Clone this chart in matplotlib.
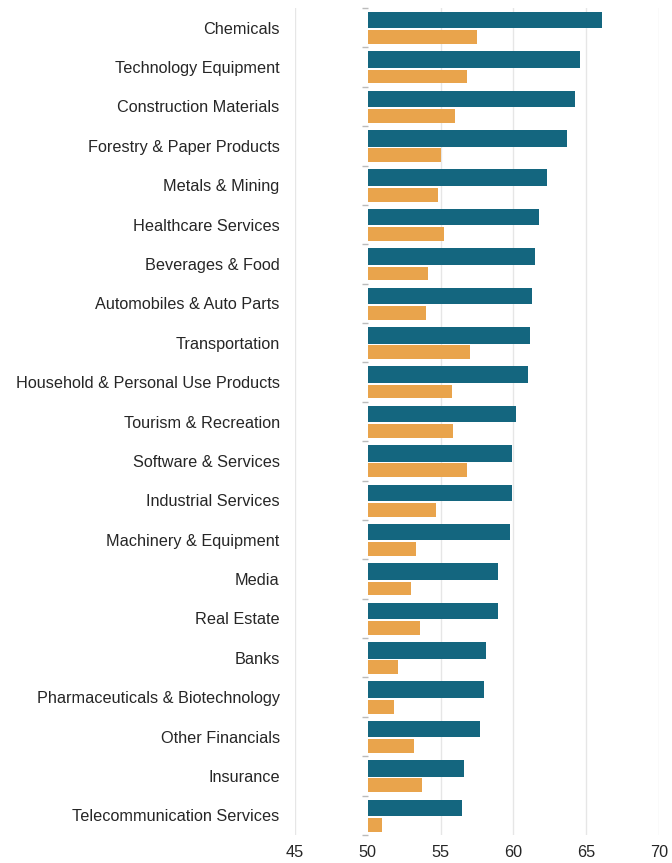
import numpy as np
import matplotlib.pyplot as plt

categories = [
    "Chemicals", "Technology Equipment", "Construction Materials",
    "Forestry & Paper Products", "Metals & Mining", "Healthcare Services",
    "Beverages & Food", "Automobiles & Auto Parts", "Transportation",
    "Household & Personal Use Products", "Tourism & Recreation",
    "Software & Services", "Industrial Services", "Machinery & Equipment",
    "Media", "Real Estate", "Banks", "Pharmaceuticals & Biotechnology",
    "Other Financials", "Insurance", "Telecommunication Services",
]
teal_values = [66.1, 64.6, 64.25, 63.65, 62.3, 61.75, 61.5, 61.3, 61.15, 61.0,
               60.2, 59.9, 59.9, 59.8, 58.95, 58.95, 58.1, 57.95, 57.7, 56.6, 56.5]
orange_values = [57.5, 56.8, 56.0, 55.05, 54.85, 55.2, 54.15, 54.0, 57.05, 55.8,
                 55.85, 56.8, 54.7, 53.3, 53.0, 53.6, 52.1, 51.8, 53.2, 53.7, 51.0]
xticks = [45, 50, 55, 60, 65, 70]
baseline = 50

teal = "#14667f"
orange = "#e9a44c"
text_col = "#262626"

plt.rcParams['font.family'] = ['Liberation Sans', 'DejaVu Sans']

fig = plt.figure(figsize=(6.72, 8.63), dpi=100)
ax = fig.add_axes([295 / 672, 1 - 835 / 863, (659 - 295) / 672, 827 / 863])

y = np.arange(len(categories))
teal_v = np.array(teal_values)
orange_v = np.array(orange_values)

# teal bar on top half, thinner orange bar just below it
ax.barh(y - 0.19, teal_v - baseline, left=baseline, height=0.42,
        color=teal, zorder=3)
ax.barh(y + 0.24, orange_v - baseline, left=baseline, height=0.35,
        color=orange, zorder=3)

ax.set_xlim(45, 70)
ax.set_ylim(len(categories) - 0.5, -0.5)
ax.set_xticks(xticks)
ax.set_xticklabels([str(t) for t in xticks])
ax.set_yticks(y)
ax.set_yticklabels(categories)
ax.tick_params(axis='both', length=0, labelsize=11.7, labelcolor=text_col)
ax.tick_params(axis='y', pad=11)
ax.tick_params(axis='x', pad=7)

ax.grid(axis='x', color='#e6e6e6', linewidth=1, zorder=0)
ax.set_axisbelow(True)
ax.get_xgridlines()[1].set_visible(False)

# small tick marks between categories at the baseline
bounds = np.arange(len(categories) + 1) - 0.5
ax.plot(np.full(len(bounds), baseline), bounds, linestyle='none',
        marker=0, markersize=4, color='#bbbbbb', zorder=2, clip_on=False)

for s in ax.spines.values():
    s.set_visible(False)

fig.savefig("out.png", dpi=100)
